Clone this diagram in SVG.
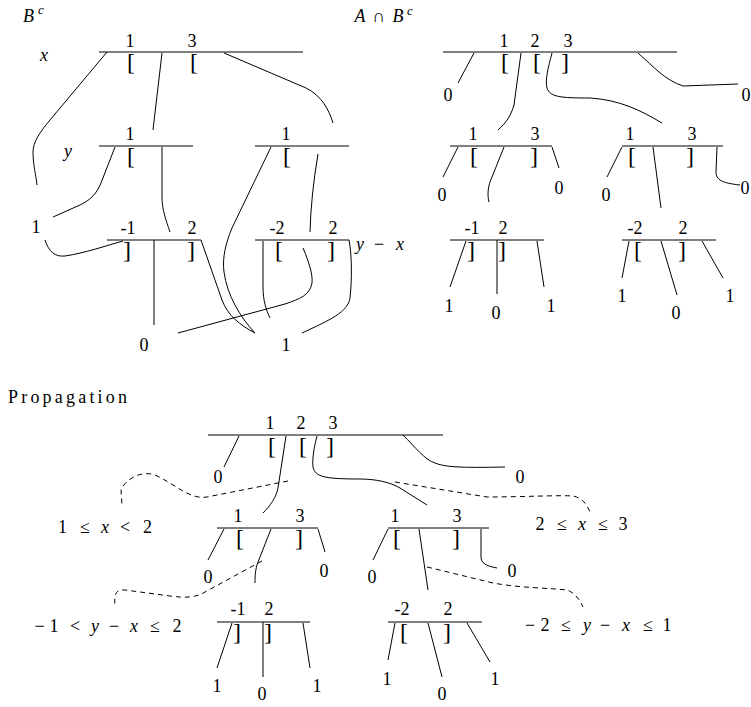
<svg xmlns="http://www.w3.org/2000/svg" width="751" height="707" viewBox="0 0 751 707" font-family="'Liberation Serif', 'DejaVu Serif', serif">
<style>
text{font-size:18px;fill:#000;text-anchor:middle}
.s{text-anchor:start}
.i{font-style:italic}
.sup{font-size:13px}
.br{font-size:24px}
.bar{stroke:#000;stroke-width:1;fill:none}
.c{stroke:#000;stroke-width:1;fill:none}
.d{stroke:#000;stroke-width:1;fill:none;stroke-dasharray:5,4}
</style>
<rect width="751" height="707" fill="#fff"/>

<!-- ===== Top-left: B^c ===== -->
<g id="title-bc">
<text class="i s" x="23" y="22">B</text><text class="i s sup" x="38" y="14">c</text>
</g>
<g id="var-labels-left">
<text class="i" x="44" y="61">x</text>
<text class="i" x="68" y="157">y</text>
<text class="i" x="360" y="250">y</text><text x="379" y="250">−</text><text class="i" x="400" y="250">x</text>
</g>
<g id="bc-x">
<path class="bar" d="M99,52H303"/>
<text x="130" y="47">1</text><text x="192" y="47">3</text>
<text class="br" x="131" y="70">[</text><text class="br" x="194" y="70">[</text>
</g>
<g id="bc-y1">
<path class="bar" d="M99,146H193"/>
<text x="130" y="140">1</text>
<text class="br" x="131" y="164">[</text>
</g>
<g id="bc-y2">
<path class="bar" d="M255,146H349"/>
<text x="286" y="140">1</text>
<text class="br" x="287" y="164">[</text>
</g>
<g id="bc-d1">
<path class="bar" d="M107,240H201"/>
<text x="128" y="234">-1</text><text x="192" y="234">2</text>
<text class="br" x="127" y="258">]</text><text class="br" x="191" y="258">]</text>
</g>
<g id="bc-d2">
<path class="bar" d="M255,240H349"/>
<text x="277" y="234">-2</text><text x="333" y="234">2</text>
<text class="br" x="279" y="258">[</text><text class="br" x="331" y="258">]</text>
</g>
<g id="bc-leaves">
<text x="36" y="233">1</text>
<text x="144" y="351">0</text>
<text x="286" y="351">1</text>
</g>

<!-- ===== Top-right: A ∩ B^c ===== -->
<g id="title-abc">
<text class="i" x="360" y="22">A</text><text x="379" y="22">∩</text><text class="i" x="398" y="22">B</text><text class="i sup" x="410" y="15">c</text>
</g>
<g id="ab-x">
<path class="bar" d="M443,52H677"/>
<text x="504" y="47">1</text><text x="535" y="47">2</text><text x="568" y="47">3</text>
<text class="br" x="505" y="70">[</text><text class="br" x="537" y="70">[</text><text class="br" x="565" y="70">]</text>
</g>
<g id="ab-y1">
<path class="bar" d="M450,146H552"/>
<text x="473" y="140">1</text><text x="535" y="140">3</text>
<text class="br" x="474" y="164">[</text><text class="br" x="534" y="164">]</text>
</g>
<g id="ab-y2">
<path class="bar" d="M622,146H723"/>
<text x="630" y="140">1</text><text x="692" y="140">3</text>
<text class="br" x="632" y="164">[</text><text class="br" x="690" y="164">]</text>
</g>
<g id="ab-d1">
<path class="bar" d="M450,240H544"/>
<text x="472" y="234">-1</text><text x="503" y="234">2</text>
<text class="br" x="471" y="258">]</text><text class="br" x="502" y="258">]</text>
</g>
<g id="ab-d2">
<path class="bar" d="M622,240H716"/>
<text x="635" y="234">-2</text><text x="683" y="234">2</text>
<text class="br" x="638" y="258">[</text><text class="br" x="682" y="258">]</text>
</g>
<g id="ab-leaves">
<text x="448" y="101">0</text>
<text x="746" y="101">0</text>
<text x="442" y="201">0</text>
<text x="559" y="194">0</text>
<text x="606" y="201">0</text>
<text x="745" y="194">0</text>
<text x="449" y="312">1</text>
<text x="496" y="319">0</text>
<text x="551" y="312">1</text>
<text x="622" y="302">1</text>
<text x="676" y="319">0</text>
<text x="730" y="302">1</text>
</g>

<!-- ===== Propagation ===== -->
<g id="title-prop">
<text class="s" x="8" y="403" font-size="19" textLength="119" lengthAdjust="spacing">Propagation</text>
</g>
<g id="pr-x">
<path class="bar" d="M208,435H443"/>
<text x="270" y="429">1</text><text x="301" y="429">2</text><text x="333" y="429">3</text>
<text class="br" x="272" y="454">[</text><text class="br" x="303" y="454">[</text><text class="br" x="330" y="454">]</text>
</g>
<g id="pr-y1">
<path class="bar" d="M217,528H318"/>
<text x="238" y="522">1</text><text x="300" y="522">3</text>
<text class="br" x="240" y="546">[</text><text class="br" x="299" y="546">]</text>
</g>
<g id="pr-y2">
<path class="bar" d="M388,528H489"/>
<text x="395" y="522">1</text><text x="457" y="522">3</text>
<text class="br" x="397" y="546">[</text><text class="br" x="456" y="546">]</text>
</g>
<g id="pr-d1">
<path class="bar" d="M217,622H310"/>
<text x="238" y="615">-1</text><text x="269" y="615">2</text>
<text class="br" x="237" y="640">]</text><text class="br" x="268" y="640">]</text>
</g>
<g id="pr-d2">
<path class="bar" d="M388,622H482"/>
<text x="402" y="615">-2</text><text x="448" y="615">2</text>
<text class="br" x="404" y="640">[</text><text class="br" x="447" y="640">]</text>
</g>
<g id="pr-leaves">
<text x="218" y="483">0</text>
<text x="520" y="483">0</text>
<text x="208" y="583">0</text>
<text x="324" y="577">0</text>
<text x="372" y="583">0</text>
<text x="512" y="577">0</text>
<text x="217" y="692">1</text>
<text x="262" y="700">0</text>
<text x="317" y="692">1</text>
<text x="387" y="685">1</text>
<text x="442" y="700">0</text>
<text x="495" y="685">1</text>
</g>
<g id="pr-conditions">
<text x="62.5" y="533">1</text><text x="85" y="533" font-size="20">≤</text><text class="i" x="105" y="533">x</text><text x="125" y="533" font-size="20">&lt;</text><text x="147.5" y="533">2</text>
<text x="540" y="530">2</text><text x="562" y="530" font-size="20">≤</text><text class="i" x="582" y="530">x</text><text x="603" y="530" font-size="20">≤</text><text x="623" y="530">3</text>
<text x="39.5" y="632" font-size="22">−</text><text x="54" y="632">1</text><text x="75" y="632" font-size="20">&lt;</text><text class="i" x="95" y="632">y</text><text x="114" y="632" font-size="22">−</text><text class="i" x="134" y="632">x</text><text x="155" y="632" font-size="20">≤</text><text x="177" y="632">2</text>
<text x="530" y="631" font-size="22">−</text><text x="545" y="631">2</text><text x="566" y="631" font-size="20">≤</text><text class="i" x="587" y="631">y</text><text x="605" y="631" font-size="22">−</text><text class="i" x="626" y="631">x</text><text x="648" y="631" font-size="20">≤</text><text x="667" y="631">1</text>
</g>

<!-- ===== Connectors ===== -->
<g id="connectors">
<!-- B^c -->
<path class="c" d="M107,52 L50,120 C40,132 33,142 33,152 C33,165 36,175 37,185"/>
<path class="c" d="M162,53 L153,130"/>
<path class="c" d="M224,53 L306,88 C322,96 329,110 333,123"/>
<path class="c" d="M115,147 L101,183 C96,195 90,200 80,205 L53,217"/>
<path class="c" d="M162,147 L162,197 C162,210 166,220 170,232"/>
<path class="c" d="M271,147 L232,228 C226,242 222,258 224,272 C227,295 240,317 255,333"/>
<path class="c" d="M318,154 Q311,195 310,232"/>
<path class="c" d="M45,240 C49,252 55,257 65,256 C85,253 105,246 123,241"/>
<path class="c" d="M154,240 L154,325"/>
<path class="c" d="M201,240 L222,300 C228,316 240,325 255,333"/>
<path class="c" d="M263,241 L263,287 C263,300 266,310 270,318"/>
<path class="c" d="M303,248 C309,262 313,275 312,283 C310,295 300,299 285,304 L178,333"/>
<path class="c" d="M349,240 C352,255 352,280 350,298 C348,312 330,320 302,333"/>
<!-- A ∩ B^c -->
<path class="c" d="M474,53 L458,83"/>
<path class="c" d="M521,53 L514,105 C511,115 507,122 498,130"/>
<path class="c" d="M552,53 C548,68 545,80 547,88 C550,97 560,98 590,98 C620,100 640,110 662,123"/>
<path class="c" d="M638,53 C655,68 665,80 683,86 L738,84"/>
<path class="c" d="M458,147 L443,177"/>
<path class="c" d="M504,147 L492,177 C488,185 487,195 489,202"/>
<path class="c" d="M552,147 L559,168"/>
<path class="c" d="M622,147 L607,177"/>
<path class="c" d="M653,147 L661,208"/>
<path class="c" d="M717,147 L716,172 C716,180 722,183 740,185"/>
<path class="c" d="M466,241 L450,287"/>
<path class="c" d="M497,240 L497,294"/>
<path class="c" d="M537,241 L544,287"/>
<path class="c" d="M629,241 L622,278"/>
<path class="c" d="M661,241 L677,295"/>
<path class="c" d="M702,241 L723,278"/>
<!-- Propagation -->
<path class="c" d="M239,436 L224,467"/>
<path class="c" d="M286,436 L278,488 C276,498 270,506 263,513"/>
<path class="c" d="M317,436 C314,447 312,460 313,467 C315,477 325,479 360,479 C375,479 390,482 400,488 L427,505"/>
<path class="c" d="M403,435 C415,447 425,460 435,463 C445,467 460,468 505,467"/>
<path class="c" d="M224,529 L208,560"/>
<path class="c" d="M271,529 L258,562 C255,570 255,577 255,583"/>
<path class="c" d="M318,529 L325,552"/>
<path class="c" d="M388,529 L373,560"/>
<path class="c" d="M419,529 L428,590"/>
<path class="c" d="M481,529 L481,557 C481,563 486,566 497,568"/>
<path class="c" d="M232,623 L217,668"/>
<path class="c" d="M263,622 L263,677"/>
<path class="c" d="M303,623 L310,668"/>
<path class="c" d="M395,623 L388,660"/>
<path class="c" d="M428,623 L442,677"/>
<path class="c" d="M467,623 L490,662"/>
<!-- dashed propagation links -->
<path class="d" d="M288,481 L207,497 C190,500 175,484 155,475 C140,470 125,480 121,490 L122,505"/>
<path class="d" d="M395,482 L487,497 C520,497 560,495 573,496 C583,498 587,505 590,512"/>
<path class="d" d="M262,561 L205,592 C195,598 185,598 170,596 L125,590 C115,589 114,595 115,607"/>
<path class="d" d="M427,567 L493,583 C520,588 550,588 567,590 C575,593 580,600 583,607"/>
</g>
</svg>
